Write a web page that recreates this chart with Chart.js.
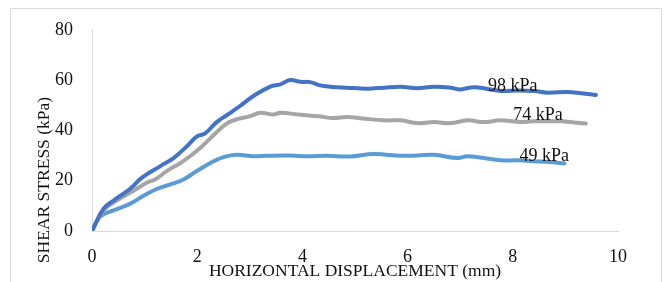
<!DOCTYPE html>
<html>
<head>
<meta charset="utf-8">
<script src="https://cdn.jsdelivr.net/npm/chart.js@4"></script>
<style>
  html, body { margin: 0; padding: 0; background: #fff; }
  #wrap { position: relative; width: 667px; height: 282px; overflow: hidden; }
  #frame { position: absolute; left: 10px; top: 8px; width: 652px; height: 300px; border: 1px solid #d9d9d9; box-sizing: border-box; }
  #shearChart { position: absolute; left: 0; top: 0; }
</style>
</head>
<body>
<div id="wrap">
  <div id="frame"></div>
  <canvas id="shearChart" width="667" height="282"></canvas>
</div>
<script>
// displacement (mm) / shear stress (kPa)
const disp98 = [0, 0.22, 0.41, 0.72, 0.95, 1.3, 1.55, 1.8, 1.99, 2.15, 2.37, 2.6, 2.82, 3.07, 3.39, 3.58, 3.77, 3.96, 4.15, 4.34, 4.53, 4.85, 5.23, 5.55, 5.87, 6.18, 6.5, 6.82, 7.0, 7.26, 7.5, 7.77, 8.1, 8.4, 8.66, 9.04, 9.3, 9.58];
const stress98 = [0, 8.9, 12.1, 16.7, 21.2, 25.8, 29, 33.6, 37.5, 38.8, 43.3, 46.6, 49.8, 53.7, 57.4, 58.3, 60, 59.3, 59.2, 57.9, 57.4, 57, 56.6, 57, 57.4, 56.8, 57.4, 57, 56.3, 57.2, 56.6, 55.7, 55.9, 55.7, 55, 55.3, 54.8, 54.1];

const disp74 = [0, 0.22, 0.47, 0.79, 1.04, 1.2, 1.42, 1.68, 1.9, 2.12, 2.31, 2.56, 2.78, 3.0, 3.2, 3.45, 3.58, 3.96, 4.3, 4.59, 4.85, 5.2, 5.55, 5.87, 6.18, 6.5, 6.82, 7.14, 7.45, 7.77, 8.1, 8.4, 8.91, 9.39];
const stress74 = [0, 8.2, 12.1, 16, 19.2, 20.5, 23.8, 27, 30.3, 34.2, 38.1, 42.7, 44.6, 45.6, 47, 46.3, 47, 46.2, 45.6, 44.9, 45.3, 44.6, 44, 44, 42.9, 43.3, 42.9, 44, 43.3, 44, 43.4, 43.6, 43.6, 42.7];

const disp49 = [0, 0.15, 0.41, 0.72, 0.98, 1.23, 1.55, 1.74, 1.99, 2.31, 2.5, 2.75, 3.07, 3.33, 3.77, 4.09, 4.47, 4.9, 5.36, 5.87, 6.18, 6.5, 6.95, 7.14, 7.45, 7.77, 8.09, 8.4, 8.7, 8.98];
const stress49 = [0, 5.6, 8.2, 10.8, 14, 16.7, 18.9, 20.5, 23.8, 27.7, 29.4, 30.3, 29.7, 29.9, 30, 29.7, 29.9, 29.6, 30.6, 29.9, 30, 30.3, 29, 29.7, 29, 28.1, 28.1, 27.7, 27.4, 26.8];

const seriesNames = ['98 kPa', '74 kPa', '49 kPa'];
const xTicks = [0, 2, 4, 6, 8, 10];
const yTicks = [0, 20, 40, 60, 80];

const FONT = "'Liberation Serif', 'Times New Roman', serif";

function toPoints(xs, ys) {
    return xs.map((x, i) => ({x: x, y: ys[i]}));
}

// label text next to each curve, placed in data units
const curveLabels = {
    id: 'curveLabels',
    afterDatasetsDraw(chart, args, opts) {
        const ctx = chart.ctx;
        const xs = chart.scales.x, ys = chart.scales.y;
        ctx.save();
        ctx.font = '18px ' + FONT;
        ctx.fillStyle = '#111';
        ctx.textAlign = 'center';
        ctx.textBaseline = 'middle';
        opts.items.forEach(it => {
            ctx.fillText(it.text, xs.getPixelForValue(it.x), ys.getPixelForValue(it.y));
        });
        ctx.restore();
    }
};

// y axis title sits lower than the plot centre in the original
const yTitle = {
    id: 'yTitle',
    afterDraw(chart, args, opts) {
        const ctx = chart.ctx;
        ctx.save();
        ctx.translate(opts.x, opts.y);
        ctx.rotate(-Math.PI / 2);
        ctx.font = '17.5px ' + FONT;
        ctx.fillStyle = '#111';
        ctx.textAlign = 'center';
        ctx.textBaseline = 'middle';
        ctx.fillText(opts.text, 0, 0);
        ctx.restore();
    }
};

const ctx = document.getElementById('shearChart');
new Chart(ctx, {
    type: 'line',
    data: {
        datasets: [{
            label: seriesNames[0],
            data: toPoints(disp98, stress98),
            borderColor: '#4472C4'
        }, {
            label: seriesNames[1],
            data: toPoints(disp74, stress74),
            borderColor: '#A5A5A5'
        }, {
            label: seriesNames[2],
            data: toPoints(disp49, stress49),
            borderColor: '#5B9BD5'
        }]
    },
    options: {
        responsive: false,
        animation: false,
        datasets: {
            line: {
                borderWidth: 4,
                pointRadius: 0,
                tension: 0.4,
                fill: false,
                borderCapStyle: 'round',
                borderJoinStyle: 'round'
            }
        },
        layout: {
            padding: {top: 26, right: 49, left: 0, bottom: 0}
        },
        scales: {
            x: {
                type: 'linear',
                min: 0,
                max: 10,
                afterBuildTicks: s => { s.ticks = xTicks.map(v => ({value: v})); },
                afterFit: s => { s.height = 51; },
                grid: {display: false, drawTicks: false},
                border: {display: true, color: '#d9d9d9', width: 1},
                ticks: {
                    padding: 15,
                    color: '#111',
                    font: {family: FONT, size: 18}
                },
                title: {
                    display: true,
                    text: 'HORIZONTAL DISPLACEMENT (mm)',
                    color: '#111',
                    font: {family: FONT, size: 17.5},
                    padding: {top: 0, bottom: 0}
                }
            },
            y: {
                min: 0,
                max: 80,
                afterBuildTicks: s => { s.ticks = yTicks.map(v => ({value: v})); },
                afterFit: s => { s.width = 92; },
                grid: {display: false, drawTicks: false},
                border: {display: true, color: '#d9d9d9', width: 1},
                ticks: {
                    padding: 19,
                    color: '#111',
                    font: {family: FONT, size: 18}
                }
            }
        },
        plugins: {
            legend: {display: false},
            tooltip: {enabled: false},
            curveLabels: {
                items: [
                    {text: seriesNames[0], x: 8.0, y: 57.7},
                    {text: seriesNames[1], x: 8.48, y: 45.9},
                    {text: seriesNames[2], x: 8.6, y: 29.9}
                ]
            },
            yTitle: {text: 'SHEAR STRESS (kPa)', x: 44, y: 180}
        }
    },
    plugins: [curveLabels, yTitle]
});
</script>
</body>
</html>
